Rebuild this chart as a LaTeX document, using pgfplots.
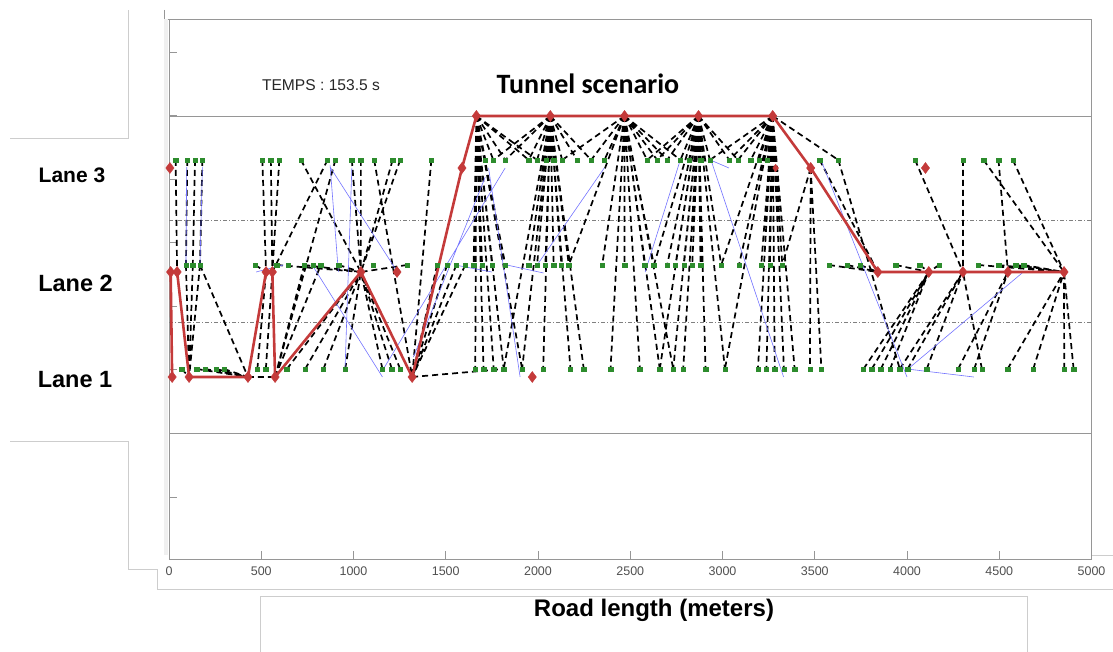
\documentclass[border=0pt]{standalone}
\usepackage{fontspec}
\setmainfont{Liberation Sans}
\newfontfamily\calibri{Carlito}
\usepackage{pgfplots}
\pgfplotsset{compat=1.18}

\definecolor{pathred}{RGB}{196,58,58}
\definecolor{vehgreen}{RGB}{45,140,45}
\definecolor{speedblue}{RGB}{115,115,255}
\definecolor{framegray}{RGB}{205,205,205}
\definecolor{axgray}{RGB}{150,150,150}
\definecolor{ticktext}{RGB}{80,80,80}

\begin{document}
\begin{tikzpicture}[x=1pt,y=1pt]
\useasboundingbox (0,0) rectangle (1113,652);

%% --- frame lines of the screenshot (pixel units, y from bottom) ---
\draw[framegray, line width=0.8pt] (10,514) -- (128,514) -- (128,642);
\draw[framegray, line width=0.8pt] (10,211) -- (128,211) -- (128,83) -- (157,83) -- (157,63) -- (1113,63);
\draw[framegray, line width=0.8pt] (1092,97) -- (1113,97);
\draw[framegray, line width=0.8pt] (260,0) -- (260,56) -- (1027,56) -- (1027,0);
\draw[axgray, line width=0.8pt] (164,642) -- (164,633) -- (169,633);
\fill[black!6] (164,97) rectangle (168,633);

\begin{axis}[
    at={(169pt,92.5pt)}, anchor=south west,
    scale only axis, width=922.5pt, height=540.5pt,
    xmin=0, xmax=5000, ymin=92.5, ymax=633,
    clip=false,
    axis line style={axgray, line width=0.9pt},
    xtick={0,500,...,5000},
    ytick={155,218.6,282.1,345.7,409.3,472.9,536.4,600},
    yticklabels={},
    xtick pos=bottom, ytick pos=left,
    tick align=inside, major tick length=8pt,
    tick style={axgray, line width=0.8pt},
    xticklabel style={font=\fontsize{12.5}{13}\selectfont, text=ticktext, yshift=-4pt},
    /pgf/number format/assume math mode=true,
    /pgf/number format/set thousands separator={},
    unbounded coords=jump,
  ]

  %% --- lane / tunnel borders ---
  \draw[axgray, line width=0.9pt] (axis cs:0,536) -- (axis cs:5000,536);
  \draw[axgray, line width=0.9pt] (axis cs:0,219) -- (axis cs:5000,219);
  \draw[gray, line width=0.6pt, dash pattern=on 4pt off 2pt on 1pt off 2pt] (axis cs:0,432) -- (axis cs:5000,432);
  \draw[gray, line width=0.6pt, dash pattern=on 4pt off 2pt on 1pt off 2pt] (axis cs:0,330) -- (axis cs:5000,330);

  %% --- links vehicle -> relay (black dashed) ---
  \addplot[black, line width=1.7pt, dash pattern=on 6pt off 4pt] coordinates {
    (36,492) (44,380) (nan,nan)
    (99,492) (92,387) (nan,nan)
    (141,492) (129,387) (nan,nan)
    (181,492) (168,387) (nan,nan)
    (92,387) (109,275) (nan,nan)
    (129,387) (109,275) (nan,nan)
    (168,387) (109,275) (nan,nan)
    (168,387) (428,275) (nan,nan)
    (69,283) (109,275) (nan,nan)
    (150,283) (428,275) (nan,nan)
    (195,283) (428,275) (nan,nan)
    (255,283) (428,275) (nan,nan)
    (298,283) (428,275) (nan,nan)
    (428,275) (575,275) (nan,nan)
    (506,492) (526,380) (nan,nan)
    (552,492) (560,380) (nan,nan)
    (598,492) (560,380) (nan,nan)
    (467,387) (526,380) (nan,nan)
    (479,283) (526,380) (nan,nan)
    (525,283) (560,380) (nan,nan)
    (715,492) (1040,380) (nan,nan)
    (859,492) (560,380) (nan,nan)
    (902,492) (575,275) (nan,nan)
    (991,492) (1040,380) (nan,nan)
    (1040,492) (1040,380) (nan,nan)
    (1112,492) (1318,275) (nan,nan)
    (1212,492) (1040,380) (nan,nan)
    (1253,492) (1040,380) (nan,nan)
    (1422,492) (1318,275) (nan,nan)
    (584,387) (1040,380) (nan,nan)
    (733,387) (1040,380) (nan,nan)
    (919,387) (1040,380) (nan,nan)
    (1290,387) (1040,380) (nan,nan)
    (639,283) (1040,380) (nan,nan)
    (738,283) (1040,380) (nan,nan)
    (837,283) (1040,380) (nan,nan)
    (955,283) (1040,380) (nan,nan)
    (1157,283) (1040,380) (nan,nan)
    (1208,283) (1040,380) (nan,nan)
    (1253,283) (1040,380) (nan,nan)
    (575,275) (733,387) (nan,nan)
    (575,275) (823,387) (nan,nan)
    (1453,387) (1318,275) (nan,nan)
    (1507,387) (1318,275) (nan,nan)
    (1557,387) (1318,275) (nan,nan)
    (1606,387) (1318,275) (nan,nan)
    (1318,275) (1814,283) (nan,nan)
    % T1
    (1666,536) (1715,492) (nan,nan)
    (1666,536) (1758,492) (nan,nan)
    (1666,536) (1823,492) (nan,nan)
    (1666,536) (1950,492) (nan,nan)
    (1666,536) (1995,492) (nan,nan)
    (1666,536) (1651,387) (nan,nan)
    (1666,536) (1697,387) (nan,nan)
    (1666,536) (1751,387) (nan,nan)
    (1666,536) (1823,387) (nan,nan)
    (1666,536) (1660,283) (nan,nan)
    (1666,536) (1705,283) (nan,nan)
    (1666,536) (1760,283) (nan,nan)
    (1666,536) (1814,283) (nan,nan)
    (1666,536) (1914,283) (nan,nan)
    % T2
    (2067,536) (1758,492) (nan,nan)
    (2067,536) (1823,492) (nan,nan)
    (2067,536) (1950,492) (nan,nan)
    (2067,536) (1995,492) (nan,nan)
    (2067,536) (2044,492) (nan,nan)
    (2067,536) (2085,492) (nan,nan)
    (2067,536) (2131,492) (nan,nan)
    (2067,536) (2212,492) (nan,nan)
    (2067,536) (2288,492) (nan,nan)
    (2067,536) (1950,387) (nan,nan)
    (2067,536) (1995,387) (nan,nan)
    (2067,536) (2040,387) (nan,nan)
    (2067,536) (2085,387) (nan,nan)
    (2067,536) (2127,387) (nan,nan)
    (2067,536) (2167,387) (nan,nan)
    (2067,536) (1814,283) (nan,nan)
    (2067,536) (1914,283) (nan,nan)
    (2067,536) (2028,283) (nan,nan)
    (2067,536) (2176,283) (nan,nan)
    (2067,536) (2248,283) (nan,nan)
    % T3
    (2469,536) (2131,492) (nan,nan)
    (2469,536) (2288,492) (nan,nan)
    (2469,536) (2360,492) (nan,nan)
    (2469,536) (2592,492) (nan,nan)
    (2469,536) (2646,492) (nan,nan)
    (2469,536) (2700,492) (nan,nan)
    (2469,536) (2772,492) (nan,nan)
    (2469,536) (2167,387) (nan,nan)
    (2469,536) (2348,387) (nan,nan)
    (2469,536) (2469,387) (nan,nan)
    (2469,536) (2579,387) (nan,nan)
    (2469,536) (2628,387) (nan,nan)
    (2469,536) (2393,283) (nan,nan)
    (2469,536) (2552,283) (nan,nan)
    (2469,536) (2660,283) (nan,nan)
    (2469,536) (2733,283) (nan,nan)
    % T4
    (2870,536) (2592,492) (nan,nan)
    (2870,536) (2646,492) (nan,nan)
    (2870,536) (2700,492) (nan,nan)
    (2870,536) (2772,492) (nan,nan)
    (2870,536) (2818,492) (nan,nan)
    (2870,536) (2881,492) (nan,nan)
    (2870,536) (2932,492) (nan,nan)
    (2870,536) (3037,492) (nan,nan)
    (2870,536) (3084,492) (nan,nan)
    (2870,536) (2628,387) (nan,nan)
    (2870,536) (2700,387) (nan,nan)
    (2870,536) (2745,387) (nan,nan)
    (2870,536) (2791,387) (nan,nan)
    (2870,536) (2836,387) (nan,nan)
    (2870,536) (2881,387) (nan,nan)
    (2870,536) (2993,387) (nan,nan)
    (2870,536) (2660,283) (nan,nan)
    (2870,536) (2733,283) (nan,nan)
    (2870,536) (2787,283) (nan,nan)
    (2870,536) (2908,283) (nan,nan)
    (2870,536) (3013,283) (nan,nan)
    % T5
    (3272,536) (2932,492) (nan,nan)
    (3272,536) (3037,492) (nan,nan)
    (3272,536) (3084,492) (nan,nan)
    (3272,536) (3153,492) (nan,nan)
    (3272,536) (3198,492) (nan,nan)
    (3272,536) (3243,492) (nan,nan)
    (3272,536) (3628,492) (nan,nan)
    (3272,536) (2993,387) (nan,nan)
    (3272,536) (3089,387) (nan,nan)
    (3272,536) (3210,387) (nan,nan)
    (3272,536) (3257,387) (nan,nan)
    (3272,536) (3324,387) (nan,nan)
    (3272,536) (3013,283) (nan,nan)
    (3272,536) (3192,283) (nan,nan)
    (3272,536) (3238,283) (nan,nan)
    (3272,536) (3283,283) (nan,nan)
    (3272,536) (3333,283) (nan,nan)
    (3272,536) (3391,283) (nan,nan)
    % right part
    (3478,484) (3474,283) (nan,nan)
    (3478,484) (3536,283) (nan,nan)
    (3478,484) (3324,387) (nan,nan)
    (3527,492) (3842,380) (nan,nan)
    (3628,492) (3961,283) (nan,nan)
    (3577,387) (3842,380) (nan,nan)
    (3677,387) (3842,380) (nan,nan)
    (3746,387) (3842,380) (nan,nan)
    (4044,492) (4303,380) (nan,nan)
    (4304,492) (4303,380) (nan,nan)
    (4415,492) (4851,380) (nan,nan)
    (4496,492) (4547,380) (nan,nan)
    (4574,492) (4851,380) (nan,nan)
    (3939,387) (4118,380) (nan,nan)
    (4069,387) (4118,380) (nan,nan)
    (4174,387) (4118,380) (nan,nan)
    (4386,387) (4851,380) (nan,nan)
    (4496,387) (4851,380) (nan,nan)
    (4590,387) (4851,380) (nan,nan)
    (4632,387) (4851,380) (nan,nan)
    (3764,283) (4118,380) (nan,nan)
    (3809,283) (4118,380) (nan,nan)
    (3858,283) (4118,380) (nan,nan)
    (3908,283) (4118,380) (nan,nan)
    (3961,283) (4303,380) (nan,nan)
    (4003,283) (4303,380) (nan,nan)
    (4107,283) (4303,380) (nan,nan)
    (4277,283) (4547,380) (nan,nan)
    (4364,283) (4547,380) (nan,nan)
    (4406,283) (4303,380) (nan,nan)
    (4545,283) (4851,380) (nan,nan)
    (4684,283) (4851,380) (nan,nan)
    (4852,283) (4851,380) (nan,nan)
    (4903,283) (4851,380)
  };

  %% --- thin blue segments ---
  \addplot[speedblue, line width=0.6pt] coordinates {
    (96,485) (92,389) (nan,nan)
    (181,485) (168,389) (nan,nan)
    (873,487) (918,380) (nan,nan)
    (991,484) (954,282) (nan,nan)
    (873,485) (1231,382) (nan,nan)
    (783,385) (1157,275) (nan,nan)
    (472,380) (620,387) (nan,nan)
    (1162,283) (1822,484) (nan,nan)
    (1325,295) (1714,475) (nan,nan)
    (1551,387) (1750,380) (nan,nan)
    (1732,484) (1903,275) (nan,nan)
    (1831,387) (2030,379) (nan,nan)
    (2003,389) (2359,484) (nan,nan)
    (2581,380) (2771,492) (nan,nan)
    (2934,492) (3035,484) (nan,nan)
    (2943,489) (3331,275) (nan,nan)
    (3540,489) (4000,275) (nan,nan)
    (4000,283) (4362,275) (nan,nan)
    (4018,285) (4624,379)
  };

  %% --- vehicles (green) ---
  \addplot[only marks, mark=square*, mark size=2.2pt, vehgreen] coordinates {
    (36,492) (99,492) (141,492) (181,492) (506,492) (552,492) (598,492)
    (715,492) (859,492) (902,492) (991,492) (1040,492) (1112,492)
    (1212,492) (1253,492) (1422,492) (1715,492) (1758,492) (1823,492)
    (1950,492) (1995,492) (2044,492) (2085,492) (2131,492) (2212,492)
    (2288,492) (2360,492) (2592,492) (2646,492) (2700,492) (2772,492)
    (2818,492) (2881,492) (2932,492) (3037,492) (3084,492) (3153,492)
    (3198,492) (3243,492) (3527,492) (3628,492) (4044,492) (4304,492)
    (4415,492) (4496,492) (4574,492)
    (92,387) (129,387) (168,387) (467,387) (584,387) (647,387) (733,387)
    (783,387) (823,387) (919,387) (1108,387) (1290,387) (1453,387)
    (1507,387) (1557,387) (1606,387) (1651,387) (1697,387) (1751,387)
    (1823,387) (1950,387) (1995,387) (2040,387) (2085,387) (2127,387)
    (2167,387) (2348,387) (2469,387) (2579,387) (2628,387) (2700,387)
    (2745,387) (2791,387) (2836,387) (2881,387) (2993,387) (3089,387)
    (3210,387) (3257,387) (3324,387) (3577,387) (3677,387) (3746,387)
    (3939,387) (4069,387) (4174,387) (4386,387) (4496,387) (4590,387)
    (4632,387)
    (69,283) (150,283) (195,283) (255,283) (298,283) (479,283) (525,283)
    (639,283) (738,283) (837,283) (955,283) (1157,283) (1208,283)
    (1253,283) (1660,283) (1705,283) (1760,283) (1814,283) (1914,283)
    (2028,283) (2176,283) (2248,283) (2393,283) (2552,283) (2660,283)
    (2733,283) (2787,283) (2908,283) (3013,283) (3192,283) (3238,283)
    (3283,283) (3333,283) (3391,283) (3474,283) (3536,283) (3764,283)
    (3809,283) (3858,283) (3908,283) (3961,283) (4003,283) (4107,283)
    (4277,283) (4364,283) (4406,283) (4545,283) (4684,283) (4852,283)
    (4903,283)
  };

  %% --- relay chain (red) ---
  \addplot[pathred, line width=2.6pt, mark=diamond*, mark size=5.5pt,
           mark options={solid, fill=pathred, line width=0.5pt}] coordinates {
    (17,275) (9,380) (44,380) (109,275) (428,275) (526,380) (560,380)
    (575,275) (1040,380) (1318,275) (1588,484) (1666,536) (2067,536)
    (2469,536) (2870,536) (3272,536) (3478,484) (3842,380) (4118,380)
    (4303,380) (4547,380) (4851,380)
  };
  \addplot[only marks, mark=diamond*, mark size=5.5pt, pathred] coordinates {
    (5,484) (1236,380) (1969,275) (4100,484)
  };
  \addplot[only marks, mark=diamond*, mark size=3.8pt, pathred] coordinates {
    (3288,484)
  };
\end{axis}

%% --- texts ---
\node[anchor=base, font=\fontsize{15.6}{16}\selectfont, text=black!85] at (321,561) {TEMPS : 153.5 s};
\node[anchor=base, font=\calibri\bfseries\fontsize{28}{30}\selectfont] at (588,558) {Tunnel scenario};
\node[anchor=base, font=\bfseries\fontsize{21}{22}\selectfont] at (72,469) {Lane 3};
\node[anchor=base, font=\bfseries\fontsize{23.5}{24}\selectfont] at (75.5,360) {Lane 2};
\node[anchor=base, font=\bfseries\fontsize{23.5}{24}\selectfont] at (75,264) {Lane 1};
\node[anchor=base, font=\bfseries\fontsize{24}{25}\selectfont] at (654,35) {Road length (meters)};
\end{tikzpicture}
\end{document}
